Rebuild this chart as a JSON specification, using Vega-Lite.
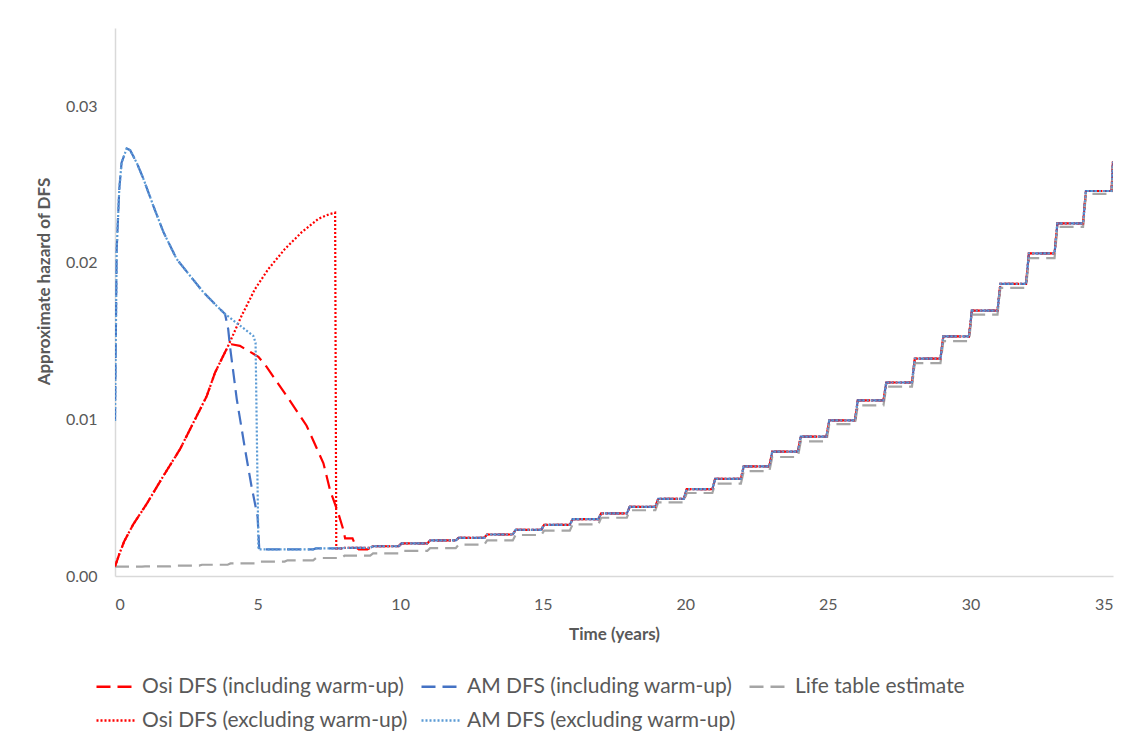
{
  "$schema": "https://vega.github.io/schema/vega-lite/v6.json",
  "width": 998,
  "height": 548,
  "autosize": {"type": "none"},
  "padding": {"left": 115, "top": 28, "right": 20, "bottom": 168},
  "background": "white",
  "config": {
    "view": {"stroke": null},
    "font": "Lato",
    "legend": {
      "orient": "none",
      "legendX": -20,
      "legendY": 637,
      "columns": 3,
      "direction": "horizontal",
      "title": null,
      "symbolType": "stroke",
      "symbolSize": 1600,
      "symbolStrokeWidth": 2.5,
      "labelFontSize": 21,
      "labelColor": "#595959",
      "labelOffset": 4,
      "columnPadding": 8,
      "rowPadding": 2,
      "labelLimit": 500
    }
  },
  "data": {"values": [
    {"t": 0, "oi": 0.0006, "oe": 0.0006, "ai": 0.0099, "ae": 0.0099, "lt": 0.0006},
    {"t": 0.06, "ai": 0.0209, "ae": 0.0209},
    {"t": 0.15, "ai": 0.0247, "ae": 0.0247, "oi": 0.0014, "oe": 0.0014},
    {"t": 0.23, "ai": 0.0264, "ae": 0.0264},
    {"t": 0.32, "oi": 0.0022, "oe": 0.0022},
    {"t": 0.41, "ai": 0.0273, "ae": 0.0273},
    {"t": 0.53, "ai": 0.0272, "ae": 0.0272},
    {"t": 0.64, "oi": 0.0033, "oe": 0.0033},
    {"t": 0.76, "ai": 0.0264, "ae": 0.0264},
    {"t": 0.95, "lt": 0.0006},
    {"t": 0.99, "ai": 0.0254, "ae": 0.0254},
    {"t": 1.05, "lt": 0.00062},
    {"t": 1.11, "oi": 0.0046, "oe": 0.0046},
    {"t": 1.34, "ai": 0.02366, "ae": 0.02366},
    {"t": 1.7, "oi": 0.0064, "oe": 0.0064, "ai": 0.02196, "ae": 0.02196},
    {"t": 1.95, "lt": 0.00062},
    {"t": 2.05, "lt": 0.00066},
    {"t": 2.16, "ai": 0.02025, "ae": 0.02025},
    {"t": 2.28, "oi": 0.0081, "oe": 0.0081},
    {"t": 2.63, "ai": 0.01918, "ae": 0.01918},
    {"t": 2.75, "oi": 0.0098, "oe": 0.0098},
    {"t": 2.95, "lt": 0.00066},
    {"t": 3.05, "lt": 0.00072},
    {"t": 3.1, "ai": 0.01812, "ae": 0.01812},
    {"t": 3.22, "oi": 0.0115, "oe": 0.0115},
    {"t": 3.51, "oi": 0.013, "oe": 0.013},
    {"t": 3.56, "ai": 0.01726, "ae": 0.01726},
    {"t": 3.86, "ai": 0.01673, "ae": 0.01673},
    {"t": 3.95, "lt": 0.00072},
    {"t": 3.97, "oi": 0.0147, "oe": 0.0147, "ai": 0.01577},
    {"t": 4.03, "ai": 0.0147},
    {"t": 4.05, "lt": 0.0008},
    {"t": 4.09, "oi": 0.0148},
    {"t": 4.27, "ai": 0.0113},
    {"t": 4.38, "oi": 0.0147},
    {"t": 4.44, "oe": 0.01662},
    {"t": 4.56, "ai": 0.0081},
    {"t": 4.68, "oi": 0.01438},
    {"t": 4.79, "ai": 0.0057},
    {"t": 4.85, "ae": 0.01534},
    {"t": 4.91, "oe": 0.01833},
    {"t": 4.93, "ae": 0.0149},
    {"t": 4.95, "lt": 0.0008},
    {"t": 5.0, "ai": 0.0038},
    {"t": 5.03, "oi": 0.014, "ae": 0.0017},
    {"t": 5.05, "lt": 0.00092},
    {"t": 5.06, "ai": 0.0017},
    {"t": 5.3, "oi": 0.0134},
    {"t": 5.38, "oe": 0.01961},
    {"t": 5.6, "oi": 0.0126},
    {"t": 5.95, "lt": 0.00092},
    {"t": 5.96, "oe": 0.02089},
    {"t": 6.02, "oi": 0.0115},
    {"t": 6.05, "lt": 0.001},
    {"t": 6.55, "oe": 0.02196},
    {"t": 6.72, "oi": 0.0096},
    {"t": 6.95, "ai": 0.0017, "ae": 0.0017, "lt": 0.001},
    {"t": 7.05, "ai": 0.00176, "ae": 0.00176, "lt": 0.00115},
    {"t": 7.13, "oe": 0.02281},
    {"t": 7.31, "oi": 0.0072},
    {"t": 7.5, "oe": 0.0231},
    {"t": 7.54, "oi": 0.0055},
    {"t": 7.72, "oe": 0.0232},
    {"t": 7.76, "oe": 0.00176},
    {"t": 7.85, "oi": 0.0039},
    {"t": 7.95, "ai": 0.00176, "ae": 0.00176, "oe": 0.00176, "lt": 0.00115},
    {"t": 8.0, "oi": 0.003},
    {"t": 8.05, "ai": 0.0018, "ae": 0.0018, "oe": 0.0018, "lt": 0.0013},
    {"t": 8.07, "oi": 0.0024},
    {"t": 8.33, "oi": 0.0024},
    {"t": 8.47, "oi": 0.0018},
    {"t": 8.55, "oi": 0.0017},
    {"t": 8.85, "oi": 0.0017},
    {"t": 8.95, "oi": 0.0018, "ai": 0.0018, "ae": 0.0018, "oe": 0.0018, "lt": 0.0013},
    {"t": 9.05, "oi": 0.0019, "ai": 0.0019, "oe": 0.0019, "ae": 0.0019, "lt": 0.00144},
    {"t": 9.95, "oi": 0.0019, "ai": 0.0019, "oe": 0.0019, "ae": 0.0019, "lt": 0.00144},
    {"t": 10.05, "oi": 0.00208, "ai": 0.00208, "oe": 0.00208, "ae": 0.00208, "lt": 0.0016},
    {"t": 10.95, "oi": 0.00208, "ai": 0.00208, "oe": 0.00208, "ae": 0.00208, "lt": 0.0016},
    {"t": 11.05, "oi": 0.00227, "ai": 0.00227, "oe": 0.00227, "ae": 0.00227, "lt": 0.00178},
    {"t": 11.95, "oi": 0.00227, "ai": 0.00227, "oe": 0.00227, "ae": 0.00227, "lt": 0.00178},
    {"t": 12.05, "oi": 0.00244, "ai": 0.00244, "oe": 0.00244, "ae": 0.00244, "lt": 0.002},
    {"t": 12.95, "oi": 0.00244, "ai": 0.00244, "oe": 0.00244, "ae": 0.00244, "lt": 0.002},
    {"t": 13.05, "oi": 0.00265, "ai": 0.00265, "oe": 0.00265, "ae": 0.00265, "lt": 0.00227},
    {"t": 13.95, "oi": 0.00265, "ai": 0.00265, "oe": 0.00265, "ae": 0.00265, "lt": 0.00227},
    {"t": 14.05, "oi": 0.00295, "ai": 0.00295, "oe": 0.00295, "ae": 0.00295, "lt": 0.00262},
    {"t": 14.95, "oi": 0.00295, "ai": 0.00295, "oe": 0.00295, "ae": 0.00295, "lt": 0.00262},
    {"t": 15.05, "oi": 0.00327, "ai": 0.00327, "oe": 0.00327, "ae": 0.00327, "lt": 0.0029},
    {"t": 15.95, "oi": 0.00327, "ai": 0.00327, "oe": 0.00327, "ae": 0.00327, "lt": 0.0029},
    {"t": 16.05, "oi": 0.00363, "ai": 0.00363, "oe": 0.00363, "ae": 0.00363, "lt": 0.0033},
    {"t": 16.95, "oi": 0.00363, "ai": 0.00363, "oe": 0.00363, "ae": 0.00363, "lt": 0.0033},
    {"t": 17.05, "oi": 0.004, "ai": 0.004, "oe": 0.004, "ae": 0.004, "lt": 0.00372},
    {"t": 17.95, "oi": 0.004, "ai": 0.004, "oe": 0.004, "ae": 0.004, "lt": 0.00372},
    {"t": 18.05, "oi": 0.00441, "ai": 0.00441, "oe": 0.00441, "ae": 0.00441, "lt": 0.0042},
    {"t": 18.95, "oi": 0.00441, "ai": 0.00441, "oe": 0.00441, "ae": 0.00441, "lt": 0.0042},
    {"t": 19.05, "oi": 0.00493, "ai": 0.00493, "oe": 0.00493, "ae": 0.00493, "lt": 0.0047},
    {"t": 19.95, "oi": 0.00493, "ai": 0.00493, "oe": 0.00493, "ae": 0.00493, "lt": 0.0047},
    {"t": 20.05, "oi": 0.00555, "ai": 0.00555, "oe": 0.00555, "ae": 0.00555, "lt": 0.0053},
    {"t": 20.95, "oi": 0.00555, "ai": 0.00555, "oe": 0.00555, "ae": 0.00555, "lt": 0.0053},
    {"t": 21.05, "oi": 0.0062, "ai": 0.0062, "oe": 0.0062, "ae": 0.0062, "lt": 0.0059},
    {"t": 21.95, "oi": 0.0062, "ai": 0.0062, "oe": 0.0062, "ae": 0.0062, "lt": 0.0059},
    {"t": 22.05, "oi": 0.007, "ai": 0.007, "oe": 0.007, "ae": 0.007, "lt": 0.0067},
    {"t": 22.95, "oi": 0.007, "ai": 0.007, "oe": 0.007, "ae": 0.007, "lt": 0.0067},
    {"t": 23.05, "oi": 0.00795, "ai": 0.00795, "oe": 0.00795, "ae": 0.00795, "lt": 0.0076},
    {"t": 23.95, "oi": 0.00795, "ai": 0.00795, "oe": 0.00795, "ae": 0.00795, "lt": 0.0076},
    {"t": 24.05, "oi": 0.0089, "ai": 0.0089, "oe": 0.0089, "ae": 0.0089, "lt": 0.0086},
    {"t": 24.95, "oi": 0.0089, "ai": 0.0089, "oe": 0.0089, "ae": 0.0089, "lt": 0.0086},
    {"t": 25.05, "oi": 0.00994, "ai": 0.00994, "oe": 0.00994, "ae": 0.00994, "lt": 0.0097},
    {"t": 25.95, "oi": 0.00994, "ai": 0.00994, "oe": 0.00994, "ae": 0.00994, "lt": 0.0097},
    {"t": 26.05, "oi": 0.01122, "ai": 0.01122, "oe": 0.01122, "ae": 0.01122, "lt": 0.0109},
    {"t": 26.95, "oi": 0.01122, "ai": 0.01122, "oe": 0.01122, "ae": 0.01122, "lt": 0.0109},
    {"t": 27.05, "oi": 0.01236, "ai": 0.01236, "oe": 0.01236, "ae": 0.01236, "lt": 0.0121},
    {"t": 27.95, "oi": 0.01236, "ai": 0.01236, "oe": 0.01236, "ae": 0.01236, "lt": 0.0121},
    {"t": 28.05, "oi": 0.01388, "ai": 0.01388, "oe": 0.01388, "ae": 0.01388, "lt": 0.0136},
    {"t": 28.95, "oi": 0.01388, "ai": 0.01388, "oe": 0.01388, "ae": 0.01388, "lt": 0.0136},
    {"t": 29.05, "oi": 0.0153, "ai": 0.0153, "oe": 0.0153, "ae": 0.0153, "lt": 0.015},
    {"t": 29.95, "oi": 0.0153, "ai": 0.0153, "oe": 0.0153, "ae": 0.0153, "lt": 0.015},
    {"t": 30.05, "oi": 0.01695, "ai": 0.01695, "oe": 0.01695, "ae": 0.01695, "lt": 0.0167},
    {"t": 30.95, "oi": 0.01695, "ai": 0.01695, "oe": 0.01695, "ae": 0.01695, "lt": 0.0167},
    {"t": 31.05, "oi": 0.01866, "ai": 0.01866, "oe": 0.01866, "ae": 0.01866, "lt": 0.0184},
    {"t": 31.95, "oi": 0.01866, "ai": 0.01866, "oe": 0.01866, "ae": 0.01866, "lt": 0.0184},
    {"t": 32.05, "oi": 0.0206, "ai": 0.0206, "oe": 0.0206, "ae": 0.0206, "lt": 0.0203},
    {"t": 32.95, "oi": 0.0206, "ai": 0.0206, "oe": 0.0206, "ae": 0.0206, "lt": 0.0203},
    {"t": 33.05, "oi": 0.02252, "ai": 0.02252, "oe": 0.02252, "ae": 0.02252, "lt": 0.0223},
    {"t": 33.95, "oi": 0.02252, "ai": 0.02252, "oe": 0.02252, "ae": 0.02252, "lt": 0.0223},
    {"t": 34.05, "oi": 0.02459, "ai": 0.02459, "oe": 0.02459, "ae": 0.02459, "lt": 0.0244},
    {"t": 34.95, "oi": 0.02459, "ai": 0.02459, "oe": 0.02459, "ae": 0.02459, "lt": 0.0244},
    {"t": 35, "oi": 0.02647, "ai": 0.02647, "oe": 0.02647, "ae": 0.02647, "lt": 0.0262}
  ]},
  "transform": [
    {"fold": ["oi", "ai", "lt", "oe", "ae"], "as": ["s", "v"]},
    {"filter": "isValid(datum.v)"}
  ],
  "mark": {"type": "line", "strokeWidth": 2.2, "clip": true},
  "encoding": {
    "x": {
      "field": "t", "type": "quantitative",
      "scale": {"domain": [0, 35], "nice": false},
      "axis": {
        "values": [0, 5, 10, 15, 20, 25, 30, 35],
        "title": "Time (years)",
        "grid": false, "ticks": false, "tickSize": 0,
        "domainColor": "#D9D9D9", "domainWidth": 1.5,
        "labelColor": "#595959", "labelFontSize": 16, "labelPadding": 28,
        "labelBaseline": "middle",
        "titleFontSize": 17, "titleColor": "#595959", "titleFontWeight": "bold",
        "titleBaseline": "middle", "titleY": 58
      }
    },
    "y": {
      "field": "v", "type": "quantitative",
      "scale": {"domain": [0, 0.035], "nice": false},
      "axis": {
        "values": [0, 0.01, 0.02, 0.03],
        "format": ".2f",
        "title": "Approximate hazard of DFS",
        "grid": false, "ticks": false, "tickSize": 0,
        "domainColor": "#D9D9D9", "domainWidth": 1.5,
        "labelColor": "#595959", "labelFontSize": 16, "labelPadding": 18,
        "titleFontSize": 17, "titleColor": "#595959", "titleFontWeight": "bold",
        "titleBaseline": "middle", "titleX": -71, "titleY": 253
      }
    },
    "color": {
      "field": "s", "type": "nominal",
      "scale": {
        "domain": ["oi", "ai", "lt", "oe", "ae"],
        "range": ["#FF0000", "#4472C4", "#A5A5A5", "#FF0000", "#5B9BD5"]
      },
      "legend": {
        "labelExpr": "{'oi': 'Osi DFS (including warm-up)', 'ai': 'AM DFS (including warm-up)', 'lt': 'Life table estimate', 'oe': 'Osi DFS (excluding warm-up)', 'ae': 'AM DFS (excluding warm-up)'}[datum.label]"
      }
    },
    "strokeDash": {
      "field": "s", "type": "nominal",
      "scale": {
        "domain": ["oi", "ai", "lt", "oe", "ae"],
        "range": [[14, 7], [14, 7], [14, 7], [2, 2], [2, 2]]
      },
      "legend": {
        "labelExpr": "{'oi': 'Osi DFS (including warm-up)', 'ai': 'AM DFS (including warm-up)', 'lt': 'Life table estimate', 'oe': 'Osi DFS (excluding warm-up)', 'ae': 'AM DFS (excluding warm-up)'}[datum.label]"
      }
    }
  }
}
